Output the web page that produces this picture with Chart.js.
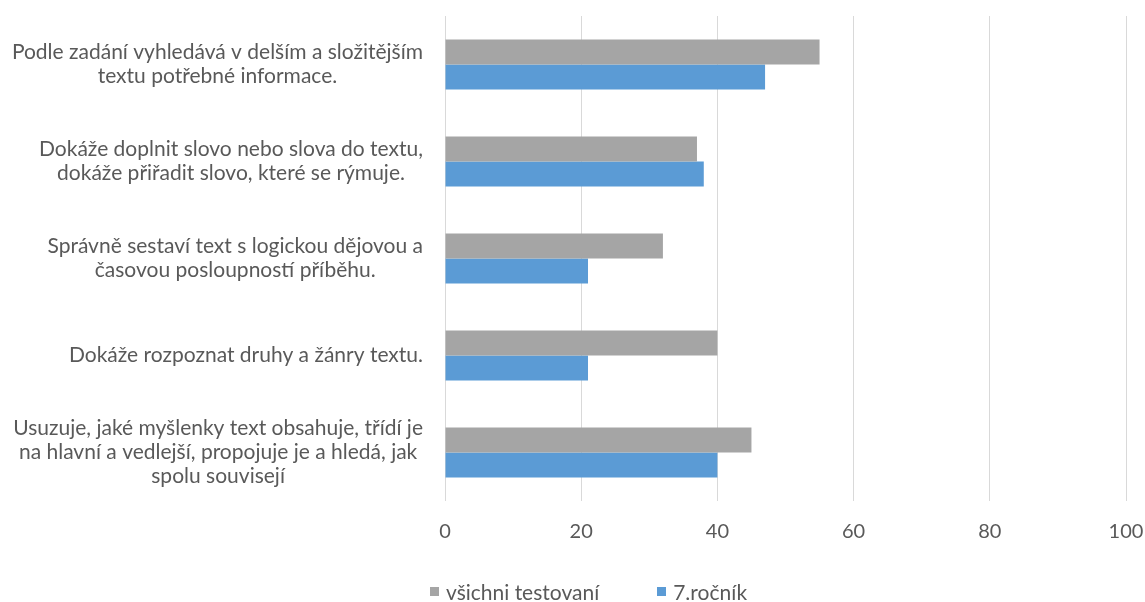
<!DOCTYPE html>
<html>
<head>
<meta charset="utf-8">
<script src="https://cdn.jsdelivr.net/npm/chart.js@4"></script>
<style>
  html, body { margin: 0; padding: 0; background: #fff; }
  #wrap { position: relative; width: 1145px; height: 602px; }
  #legend {
    position: absolute; left: 430px; top: 579px;
    display: flex; align-items: center;
    font: 21px Lato, sans-serif; color: #595959;
  }
  #legend .item { display: flex; align-items: center; margin-right: 58px; }
  #legend .box { width: 9px; height: 9px; margin-right: 7px; }
</style>
</head>
<body>
<div id="wrap">
  <canvas id="chart" width="1145" height="602"></canvas>
  <div id="legend"></div>
</div>
<script>
// ── data ──
const categories = [
  ['Podle zadání vyhledává v delším a složitějším', 'textu potřebné informace.'],
  ['Dokáže doplnit slovo nebo slova do textu,', 'dokáže přiřadit slovo, které se rýmuje.'],
  ['Správně sestaví text s logickou dějovou a', 'časovou posloupností příběhu.'],
  ['Dokáže rozpoznat druhy a žánry textu.'],
  ['Usuzuje, jaké myšlenky text obsahuje, třídí je', 'na hlavní a vedlejší, propojuje je a hledá, jak', 'spolu souvisejí'],
];
const seriesNames = ['všichni testovaní', '7.ročník'];
const allTested = [55, 37, 32, 40, 45];
const grade7 = [47, 38, 21, 21, 40];
const xTicks = [0, 20, 40, 60, 80, 100];

const COLORS = ['#A5A5A5', '#5B9BD5'];
const INK = '#595959';
const FONT = 'Lato, sans-serif';

// Excel-style category labels: block right-aligned, lines centred inside it
const catLabels = {
  id: 'catLabels',
  afterDraw(chart) {
    const { ctx, scales: { y } } = chart;
    ctx.save();
    ctx.font = `21px ${FONT}`;
    ctx.fillStyle = INK;
    ctx.textAlign = 'center';
    ctx.textBaseline = 'middle';
    const lh = 24, right = 423;
    categories.forEach((lines, i) => {
      const w = Math.max(...lines.map(l => ctx.measureText(l).width));
      const cx = right - w / 2;
      const cy = y.getPixelForValue(i);
      lines.forEach((l, k) => {
        ctx.fillText(l, cx, cy + (k - (lines.length - 1) / 2) * lh);
      });
    });
    ctx.restore();
  }
};

new Chart(document.getElementById('chart'), {
  type: 'bar',
  data: {
    labels: categories.map(c => c.join(' ')),
    datasets: [
      { label: seriesNames[0], data: allTested, backgroundColor: COLORS[0] },
      { label: seriesNames[1], data: grade7, backgroundColor: COLORS[1] },
    ]
  },
  options: {
    indexAxis: 'y',
    responsive: false,
    animation: false,
    layout: { padding: { top: 16, right: 19, bottom: 0, left: 0 } },
    datasets: { bar: { barPercentage: 1, categoryPercentage: 0.515 } },
    plugins: { legend: { display: false }, tooltip: { enabled: false } },
    scales: {
      x: {
        min: 0, max: 100,
        afterBuildTicks: s => { s.ticks = xTicks.map(v => ({ value: v })); },
        afterFit: s => { s.height = 101; s.paddingRight = 0; },
        grid: { color: '#D9D9D9', drawTicks: false },
        border: { display: false },
        ticks: { padding: 19, color: INK, font: { family: FONT, size: 20 } },
      },
      y: {
        afterFit: s => { s.width = 445; },
        grid: { display: false },
        border: { display: false },
        ticks: { display: false },
      },
    },
  },
  plugins: [catLabels],
});

// legend as plain html (Excel spacing)
document.getElementById('legend').innerHTML = seriesNames.map((n, i) =>
  `<div class="item"><div class="box" style="background:${COLORS[i]}"></div><span>${n}</span></div>`
).join('');
</script>
</body>
</html>
